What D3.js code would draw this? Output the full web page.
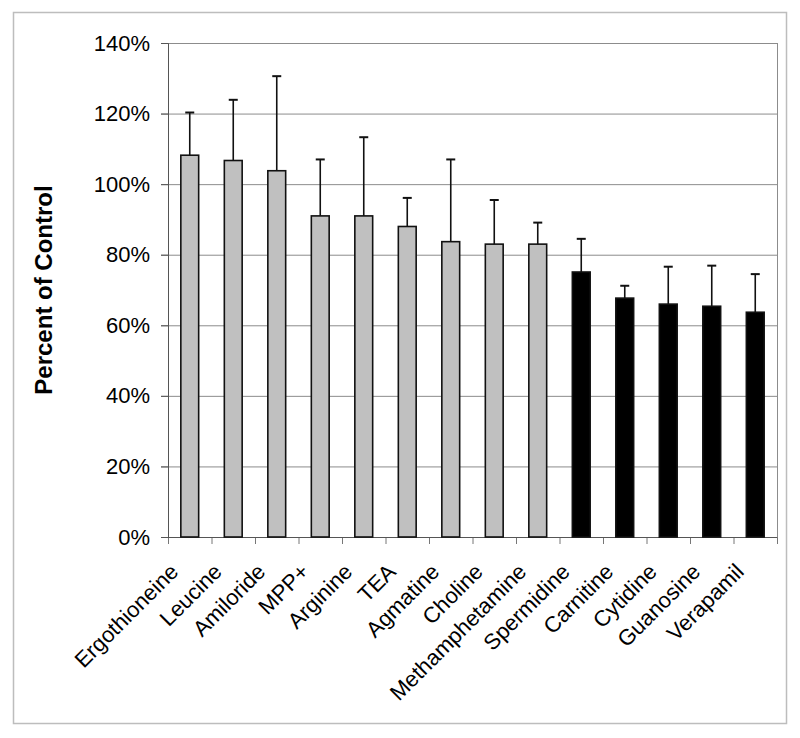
<!DOCTYPE html>
<html>
<head>
<meta charset="utf-8">
<script src="https://cdn.jsdelivr.net/npm/d3@7"></script>
<style>
  body { margin: 0; background: #fff; }
  svg { font-family: "Liberation Sans", Arial, sans-serif; }
</style>
</head>
<body>
<div id="chart"></div>
<script>
// data
const compounds = ["Ergothioneine", "Leucine", "Amiloride", "MPP+", "Arginine", "TEA", "Agmatine",
  "Choline", "Methamphetamine", "Spermidine", "Carnitine", "Cytidine", "Guanosine", "Verapamil"];
const percent = [108.2, 106.7, 103.8, 91.0, 91.0, 88.0, 83.7, 83.0, 83.0, 75.1, 67.7, 66.0, 65.4, 63.7];
const errors = [12.1, 17.2, 26.8, 16.0, 22.3, 8.1, 23.3, 12.5, 6.1, 9.4, 3.5, 10.6, 11.5, 10.8];
const significant = [false, false, false, false, false, false, false, false, false, true, true, true, true, true];
const yTicks = [0, 20, 40, 60, 80, 100, 120, 140];

const width = 800, height = 738;
const margin = { top: 43, right: 23, bottom: 201, left: 168 };

const svg = d3.select("#chart").append("svg")
  .attr("width", width)
  .attr("height", height);

// outer frame
svg.append("rect")
  .attr("x", 13.5).attr("y", 12.5)
  .attr("width", 773).attr("height", 711)
  .attr("fill", "none").attr("stroke", "#bdbdbd").attr("stroke-width", 1.5);

const x = d3.scaleBand()
  .domain(compounds)
  .range([margin.left, width - margin.right])
  .paddingInner(0.59)
  .paddingOuter(0.295);

const y = d3.scaleLinear()
  .domain([0, 140])
  .range([height - margin.bottom, margin.top]);

// gridlines
svg.append("g")
  .selectAll("line")
  .data(yTicks)
  .enter().append("line")
  .attr("x1", margin.left - 7)
  .attr("x2", width - margin.right)
  .attr("y1", d => y(d) + 0.5)
  .attr("y2", d => y(d) + 0.5)
  .attr("stroke", "#8c8c8c")
  .attr("stroke-width", 1);

// right border of plot area
svg.append("line")
  .attr("x1", width - margin.right + 0.5).attr("x2", width - margin.right + 0.5)
  .attr("y1", margin.top).attr("y2", y(0))
  .attr("stroke", "#8c8c8c");

// y axis
const yAxis = svg.append("g")
  .attr("transform", `translate(${margin.left},0)`)
  .call(d3.axisLeft(y).tickValues(yTicks).tickFormat(d => d + "%").tickSize(7).tickPadding(11));
yAxis.select(".domain").attr("stroke", "#555");
yAxis.selectAll(".tick line").attr("stroke", "#555");
yAxis.selectAll("text").attr("font-size", 22).attr("fill", "#000")
  .attr("font-family", "'Liberation Sans', Arial, sans-serif");

// x axis with ticks between categories
const bounds = d3.range(compounds.length + 1).map(i => margin.left + i * (width - margin.left - margin.right) / compounds.length);
svg.append("g")
  .selectAll("line")
  .data(bounds)
  .enter().append("line")
  .attr("x1", d => d + 0.5).attr("x2", d => d + 0.5)
  .attr("y1", y(0)).attr("y2", y(0) + 7)
  .attr("stroke", "#777");
svg.append("line")
  .attr("x1", margin.left).attr("x2", width - margin.right)
  .attr("y1", y(0) + 0.5).attr("y2", y(0) + 0.5)
  .attr("stroke", "#555");

// bars
svg.append("g")
  .selectAll("rect")
  .data(compounds)
  .enter().append("rect")
  .attr("x", d => x(d))
  .attr("y", (d, i) => y(percent[i]))
  .attr("width", x.bandwidth())
  .attr("height", (d, i) => y(0) - y(percent[i]))
  .attr("fill", (d, i) => significant[i] ? "#000" : "#c0c0c0")
  .attr("stroke", "#111")
  .attr("stroke-width", 1.6);

// error bars (upper only)
const err = svg.append("g").attr("stroke", "#111").attr("stroke-width", 1.6);
compounds.forEach((c, i) => {
  const cx = x(c) + x.bandwidth() / 2;
  err.append("line")
    .attr("x1", cx).attr("x2", cx)
    .attr("y1", y(percent[i])).attr("y2", y(percent[i] + errors[i]));
  err.append("line")
    .attr("x1", cx - 4.5).attr("x2", cx + 4.5)
    .attr("y1", y(percent[i] + errors[i])).attr("y2", y(percent[i] + errors[i]))
    .attr("stroke-width", 2);
});

// category labels
svg.append("g")
  .selectAll("text")
  .data(compounds)
  .enter().append("text")
  .attr("transform", d => `translate(${x(d) + x.bandwidth() / 2 - 10},${y(0) + 36}) rotate(-45)`)
  .attr("text-anchor", "end")
  .attr("font-size", 22)
  .text(d => d);

// y axis title
svg.append("text")
  .attr("transform", `translate(52,${(margin.top + y(0)) / 2}) rotate(-90)`)
  .attr("text-anchor", "middle")
  .attr("font-size", 24)
  .attr("font-weight", "bold")
  .text("Percent of Control");
</script>
</body>
</html>
